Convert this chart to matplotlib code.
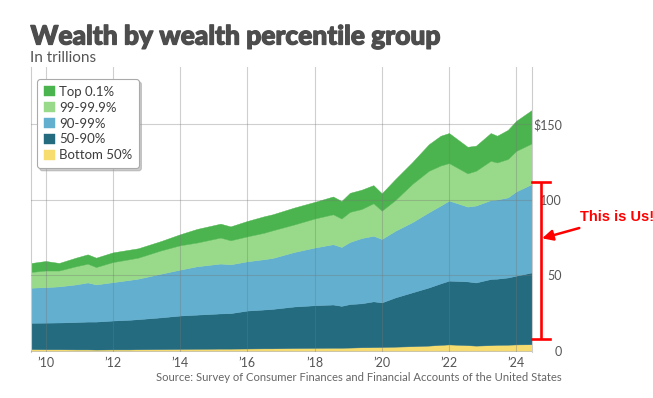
import matplotlib
matplotlib.use("Agg")
import matplotlib.pyplot as plt
import matplotlib.patheffects as pe

plt.rcParams['font.family'] = ['Lato', 'DejaVu Sans']

# ---- data (trillions of dollars) ----
years = [2009.55, 2010.0, 2010.4, 2010.9, 2011.25, 2011.5, 2012.0, 2012.5, 2012.75,
         2013.43, 2014.0, 2014.5, 2015.2, 2015.5, 2016.0, 2016.5, 2016.75, 2017.4,
         2018.0, 2018.55, 2018.8, 2019.05, 2019.4, 2019.75, 2020.0, 2020.4, 2020.9,
         2021.4, 2021.75, 2022.0, 2022.55, 2022.8, 2023.24, 2023.43, 2023.75, 2024.0,
         2024.46]

bottom_50 = [1.0, 0.9, 0.9, 0.8, 0.8, 0.7, 0.8, 0.8, 0.9, 1.0, 1.1, 1.2, 1.3, 1.3,
             1.4, 1.5, 1.5, 1.7, 1.8, 1.9, 1.9, 2.0, 2.2, 2.3, 2.4, 2.6, 2.9, 3.3,
             3.8, 4.1, 3.6, 3.3, 3.6, 3.8, 3.9, 4.1, 4.2]

p50_90 = [17.4, 17.6, 17.7, 18.1, 18.4, 18.5, 19.1, 19.6, 19.9, 21.0, 22.1, 22.6,
          23.3, 23.5, 25.1, 25.7, 26.1, 27.5, 28.2, 28.6, 27.7, 28.8, 29.1, 30.3,
          29.5, 32.6, 35.6, 38.5, 40.7, 42.2, 42.2, 41.8, 43.8, 43.8, 44.5, 45.5,
          47.5]

p90_99 = [23.2, 23.5, 23.9, 24.9, 25.9, 24.6, 25.4, 26.4, 26.8, 28.9, 30.4, 32.0,
          33.0, 32.3, 32.6, 33.3, 33.7, 36.1, 38.2, 39.9, 39.0, 41.1, 43.2, 43.4,
          42.0, 44.1, 46.4, 49.8, 51.5, 53.0, 49.5, 50.9, 52.2, 52.4, 53.0, 55.8,
          58.5]

p99_999 = [10.4, 11.0, 10.5, 12.0, 12.4, 11.5, 13.3, 13.7, 13.9, 15.4, 16.1, 15.7,
           17.2, 15.9, 16.5, 17.5, 18.3, 18.2, 19.2, 19.8, 18.8, 19.9, 19.2, 21.5,
           18.7, 20.3, 25.3, 27.4, 26.5, 24.8, 22.0, 23.0, 26.0, 24.5, 25.4, 26.8,
           26.9]

top_01 = [5.9, 6.3, 5.0, 5.7, 6.2, 6.2, 6.4, 6.3, 6.2, 6.2, 7.3, 9.0, 9.2, 9.2,
          10.2, 10.9, 10.6, 11.2, 11.0, 11.8, 11.6, 12.6, 12.8, 12.0, 11.5, 13.9,
          14.4, 17.6, 19.7, 19.9, 17.6, 16.6, 18.4, 17.7, 19.3, 19.9, 22.1]

series_labels = ['Bottom 50%', '50-90%', '90-99%', '99-99.9%', 'Top 0.1%']
series_colors = ['#f7dc70', '#246b80', '#63afcf', '#98da8a', '#4cb44e']

x_ticks = [2010, 2012, 2014, 2016, 2018, 2020, 2022, 2024]
x_tick_labels = ['\u201910', '\u201912', '\u201914', '\u201916', '\u201918',
                 '\u201920', '\u201922', '\u201924']
y_ticks = [0, 50, 100, 150]
y_tick_labels = ['0', '50', '100', '$150']

# ---- figure ----
W, H = 653, 398
fig = plt.figure(figsize=(W / 100, H / 100), dpi=100)
fig.patch.set_facecolor('white')
ax = fig.add_axes([30.5 / W, (H - 351.7) / H, (531.7 - 30.5) / W, (351.7 - 67) / H])

polys = ax.stackplot(years, bottom_50, p50_90, p90_99, p99_999, top_01,
                     colors=series_colors, labels=series_labels, linewidth=0)
for p in polys:
    p.set_edgecolor('face')
    p.set_linewidth(0.3)

ax.set_xlim(years[0], years[-1])
ax.set_ylim(-0.73, 187.7)

ax.set_xticks(x_ticks)
ax.set_xticklabels(x_tick_labels)
ax.set_yticks(y_ticks)
ax.set_yticklabels(y_tick_labels)
ax.yaxis.tick_right()
ax.tick_params(axis='x', length=0, pad=4, labelsize=9, labelcolor='#555555')
ax.tick_params(axis='y', length=0, pad=21.8, labelsize=9, labelcolor='#555555')
for lab in ax.get_yticklabels():
    lab.set_horizontalalignment('right')

ax.set_axisbelow(False)
ax.grid(True, color='#777777', alpha=0.35, linewidth=0.8)
for s in ['top', 'bottom']:
    ax.spines[s].set_visible(False)
for s in ['left', 'right']:
    ax.spines[s].set_color('#cccccc')
    ax.spines[s].set_linewidth(0.8)

# legend (reverse order, top group first)
handles, labels = ax.get_legend_handles_labels()
leg = fig.legend(handles[::-1], labels[::-1], loc='upper left',
                 bbox_to_anchor=(37 / W, 1 - 79 / H), bbox_transform=fig.transFigure,
                 borderaxespad=0, fontsize=9.5, frameon=True, fancybox=True,
                 shadow={'color': '#999999', 'alpha': 0.5},
                 handlelength=0.9, handleheight=0.85, handletextpad=0.25,
                 labelspacing=0.3, borderpad=0.5, edgecolor='#aaaaaa')
leg.get_frame().set_linewidth(0.8)
for t in leg.get_texts():
    t.set_color('#3c3c3c')

# titles
fig.text(30.5 / W, 1 - 44.5 / H, 'Wealth by wealth percentile group',
         fontsize=19, fontweight='black', color='#4d4d4d', va='baseline', ha='left',
         path_effects=[pe.withStroke(linewidth=0.9, foreground='#4d4d4d')])
fig.text(30.5 / W, 1 - 62.5 / H, 'In trillions', fontsize=11,
         color='#555555', va='baseline', ha='left')
fig.text(562 / W, 1 - 381 / H,
         'Source: Survey of Consumer Finances and Financial Accounts of the United States',
         fontsize=8.1, color='#666666', va='baseline', ha='right')

# "This is Us!" bracket for the 50-99% band
bar_x = 2024.74
cap_left, cap_right = 2024.46, 2025.01
bar_top, bar_bottom = 111.6, 7.4
red = '#ff0000'
ax.plot([bar_x, bar_x], [bar_bottom, bar_top], color=red, lw=1.9, clip_on=False,
        solid_capstyle='butt', zorder=10)
ax.plot([cap_left, cap_right], [bar_top, bar_top], color=red, lw=1.9, clip_on=False,
        zorder=10)
ax.plot([cap_left, cap_right], [bar_bottom, bar_bottom], color=red, lw=1.9,
        clip_on=False, zorder=10)
ax.annotate('This is Us!', xy=(bar_x + 0.03, 74.3), xytext=(2025.9, 88.1),
            textcoords='data', ha='left', va='center', fontsize=10.5,
            fontweight='bold', family=['Liberation Sans', 'DejaVu Sans'], color=red,
            annotation_clip=False,
            arrowprops=dict(arrowstyle='-|>,head_length=0.6,head_width=0.3',
                            color=red, lw=1.8, shrinkA=2, shrinkB=0))

fig.savefig('out.png', dpi=100, facecolor='white')
